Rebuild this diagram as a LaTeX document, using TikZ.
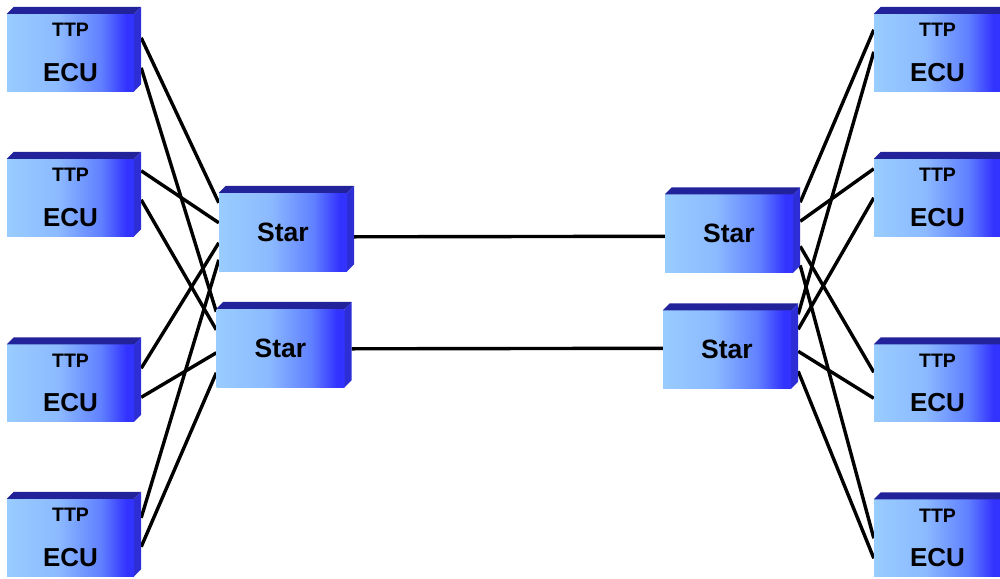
\documentclass[tikz,border=0pt]{standalone}
\usepackage{fontspec}
\setmainfont{Liberation Sans}
\usetikzlibrary{calc,backgrounds}

\definecolor{frontL}{RGB}{153,204,255}
\definecolor{frontA}{RGB}{140,186,255}
\definecolor{frontB}{RGB}{96,128,255}
\definecolor{frontR}{RGB}{51,51,255}
\definecolor{topC}{RGB}{34,34,154}
\definecolor{sideC}{RGB}{46,46,214}

% front face: light blue on the left, deep blue on the right
\pgfdeclarehorizontalshading{unitface}{100bp}{color(0bp)=(frontL); color(25bp)=(frontL); color(45bp)=(frontA); color(62bp)=(frontB); color(72bp)=(frontR); color(100bp)=(frontR)}

\tikzset{
  unit/.style={rectangle, inner sep=0pt, shading=unitface, shading angle=0},
  ecu/.style={unit, minimum width=127pt, minimum height=77pt},
  hub/.style={unit, minimum width=128pt, minimum height=78pt,
    font=\bfseries\fontsize{26.5}{26.5}\selectfont},
  ttplabel/.style={inner sep=0pt, font=\bfseries\fontsize{19.5}{19.5}\selectfont},
  eculabel/.style={inner sep=0pt, font=\bfseries\fontsize{26}{26}\selectfont},
  topface/.style={fill=topC},
  sideface/.style={fill=sideC},
  wire/.style={line width=3.4pt, black},
}

% top and side faces of a box node (depth 7 to the upper right)
\newcommand\boxfaces[1]{%
  \fill[topface] (#1.north west) -- ++(7,-7) -- ($(#1.north east)+(7,-7)$) -- (#1.north east) -- cycle;
  \fill[sideface] (#1.north east) -- ++(7,-7) -- ($(#1.south east)+(7,-7)$) -- (#1.south east) -- cycle;
}
% an ECU unit with its two text lines
\newcommand\ecuunit[2]{%
  \node[ecu] (#1) at (#2) {};
  \boxfaces{#1}
  \node[ttplabel] (#1ttp) at ($(#1.center)+(0,-22.5)$) {TTP};
  \node[eculabel] (#1ecu) at ($(#1.center)+(0,20)$) {ECU};
}
% a star coupler
\newcommand\starunit[2]{%
  \node[hub] (#1) at (#2) {Star};
  \boxfaces{#1}
}

\begin{document}
\begin{tikzpicture}[x=1pt, y=-1pt]
  \clip (0,0) rectangle (1000,578);

  % left cluster
  \ecuunit{L1}{70.5,52.5}
  \ecuunit{L2}{70.5,197.5}
  \ecuunit{L3}{70.5,383}
  \ecuunit{L4}{70.5,537.5}
  \starunit{SL1}{283,232}
  \starunit{SL2}{280.5,348}

  % right cluster
  \ecuunit{R1}{937.5,52.5}
  \ecuunit{R2}{937.5,197.5}
  \ecuunit{R3}{937.5,383}
  \ecuunit{R4}{937.5,538}
  \starunit{SR1}{729,233.5}
  \starunit{SR2}{727,349.5}

  \begin{scope}[on background layer]
    \fill[white] (0,0) rectangle (1000,578);

    % star-to-star channels
    \draw[wire] ($(SL1.north east)+(7,44)$) -- ($(SR1.north west)+(0,42)$);
    \draw[wire] ($(SL2.north east)+(7,40)$) -- ($(SR2.north west)+(0,38)$);

    % left ECUs to both stars
    \draw[wire] ($(L1.north east)+(7,24)$) -- ($(SL1.north west)+(0,10)$);
    \draw[wire] ($(L1.north east)+(7,54)$) -- ($(SL2.north west)+(0,3)$);
    \draw[wire] ($(L2.north east)+(7,12)$) -- ($(SL1.north west)+(0,30)$);
    \draw[wire] ($(L2.north east)+(7,41)$) -- ($(SL2.north west)+(0,21)$);
    \draw[wire] ($(L3.north east)+(7,24)$) -- ($(SL1.north west)+(0,50)$);
    \draw[wire] ($(L3.north east)+(7,53)$) -- ($(SL2.north west)+(0,44)$);
    \draw[wire] ($(L4.north east)+(7,19)$) -- ($(SL1.north west)+(0,67)$);
    \draw[wire] ($(L4.north east)+(7,48)$) -- ($(SL2.north west)+(0,64)$);

    % both right stars to right ECUs
    \draw[wire] ($(SR1.north east)+(7,8)$)  -- ($(R1.north west)+(0,16)$);
    \draw[wire] ($(SR1.north east)+(7,27)$) -- ($(R2.north west)+(0,10)$);
    \draw[wire] ($(SR1.north east)+(7,52)$) -- ($(R3.north west)+(0,28)$);
    \draw[wire] ($(SR1.north east)+(7,71)$) -- ($(R4.north west)+(0,39)$);
    \draw[wire] ($(SR2.north east)+(7,4)$)  -- ($(R1.north west)+(0,38)$);
    \draw[wire] ($(SR2.north east)+(7,19)$) -- ($(R2.north west)+(0,39)$);
    \draw[wire] ($(SR2.north east)+(7,41)$) -- ($(R3.north west)+(0,54)$);
    \draw[wire] ($(SR2.north east)+(7,61)$) -- ($(R4.north west)+(0,59)$);
  \end{scope}
\end{tikzpicture}
\end{document}
